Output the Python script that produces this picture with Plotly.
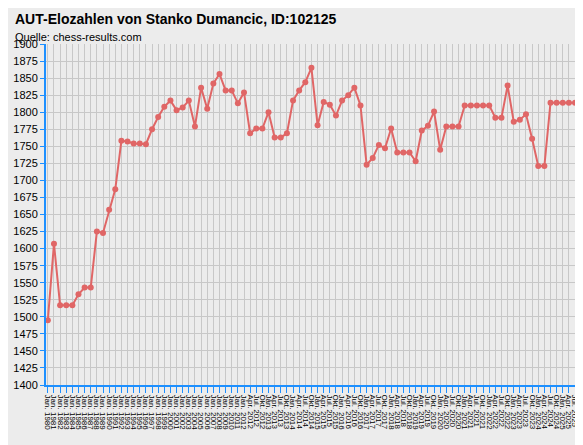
import plotly.graph_objects as go

months = ["Jan.", "Apr.", "Jul.", "Okt."]
labels = [f"Jan. {y}" for y in range(1980, 2013)]
labels += [f"{m} {y}" for y in range(2012, 2026) for m in months][1:]

elo = [1495, 1607, 1517, 1517, 1517, 1533, 1543, 1543, 1625, 1623, 1657, 1687,
       1758, 1757, 1754, 1754, 1753, 1775, 1793, 1808, 1817, 1803, 1807, 1817,
       1779, 1836, 1805, 1842, 1856, 1832, 1832, 1813, 1829, 1769, 1776, 1776,
       1800, 1763, 1763, 1769, 1817, 1832, 1844, 1865, 1781, 1815, 1811, 1795,
       1817, 1825, 1836, 1810, 1723, 1733, 1752, 1747, 1776, 1741, 1741, 1741,
       1728, 1773, 1780, 1801, 1745, 1779, 1779, 1779, 1810, 1810, 1810, 1810,
       1810, 1792, 1792, 1839, 1786, 1789, 1797, 1761, 1721, 1721, 1814, 1814,
       1814, 1814, 1814, 1814]

fig = go.Figure(go.Scatter(
    x=labels, y=elo, mode="lines+markers",
    line=dict(color="#e06666", width=2),
    marker=dict(color="#e06666", size=6),
))

fig.update_layout(
    width=583, height=445,
    margin=dict(l=37, r=5, t=36, b=68),
    paper_bgcolor="#ececec", plot_bgcolor="#ececec",
    font=dict(family="Liberation Sans", size=11, color="black"),
    showlegend=False,
    annotations=[
        dict(text="<b>AUT-Elozahlen von Stanko Dumancic, ID:102125</b>", x=0, y=1,
             xref="paper", yref="paper", xanchor="left", yanchor="bottom",
             yshift=15, xshift=-33, showarrow=False, font=dict(size=14)),
        dict(text="Quelle: chess-results.com", x=0, y=1, xref="paper", yref="paper",
             xanchor="left", yanchor="bottom", xshift=-33, yshift=-1, showarrow=False,
             font=dict(size=11)),
    ],
)
fig.update_xaxes(
    type="category", tickangle=90, tickfont=dict(size=8), tickmode="linear",
    tick0=0, dtick=1,
    showgrid=True, gridcolor="#c8c8c8", showline=True, linecolor="#1e90ff",
    linewidth=2, ticks="outside", tickcolor="#1e90ff", ticklen=6, range=[-0.3, 87.3],
)
fig.update_yaxes(
    range=[1400, 1900], dtick=25, showgrid=True, gridcolor="#c8c8c8",
    showline=True, linecolor="#1e90ff", linewidth=2, ticks="outside",
    tickcolor="#1e90ff", ticklen=4, tickfont=dict(size=11),
)

fig.write_html("out.html")
